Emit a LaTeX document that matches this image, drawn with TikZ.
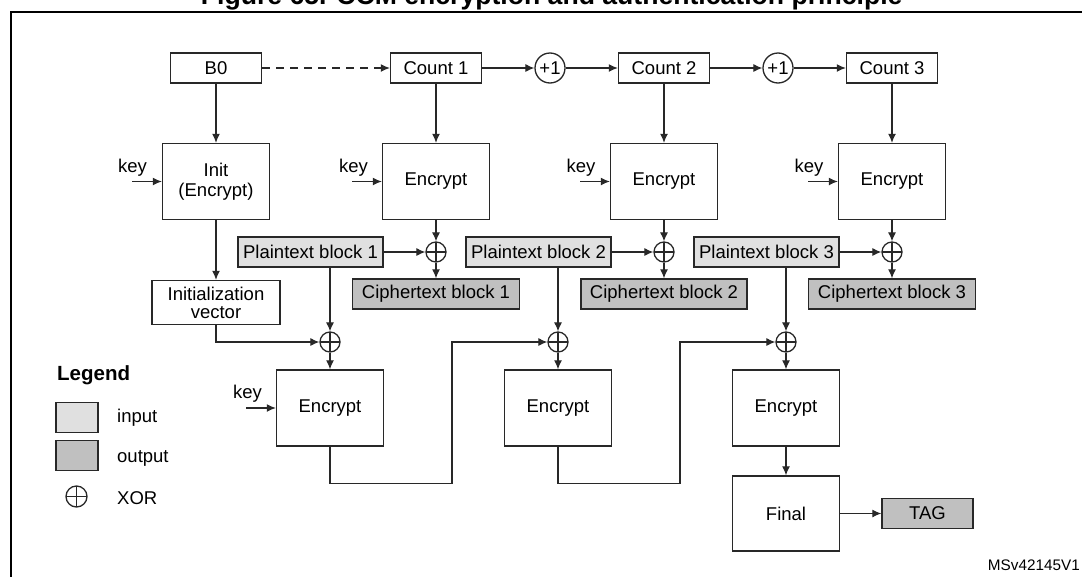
\documentclass[tikz,border=0pt]{standalone}
\usepackage{fontspec}
\setmainfont{Liberation Sans}
\usetikzlibrary{arrows.meta}
\definecolor{infill}{RGB}{224,224,224}
\definecolor{outfill}{RGB}{192,192,192}
\definecolor{ln}{RGB}{40,40,40}
\begin{document}
\begin{tikzpicture}[x=1pt,y=-1pt,
 base/.style={font=\fontsize{18.5}{22}\selectfont, text=black},
 blk/.style={base, draw=ln, line width=1.4pt, inner sep=0pt, align=center},
 small/.style={minimum width=91pt, minimum height=30pt},
 big/.style={minimum width=107pt, minimum height=76pt},
 inbox/.style={blk, fill=infill, minimum width=145pt, minimum height=30pt},
 outbox/.style={blk, fill=outfill, minimum height=30pt},
 xor/.style={circle, draw=ln, line width=1.3pt, minimum size=20pt, inner sep=0pt,
   path picture={\draw[ln, line width=1.1pt] (path picture bounding box.north) -- (path picture bounding box.south) (path picture bounding box.west) -- (path picture bounding box.east);}},
 incr/.style={base, circle, draw=ln, line width=1.3pt, minimum size=30pt, inner sep=0pt},
 arr/.style={draw=ln, line width=1.1pt, -{Latex[length=9pt,width=8pt]}},
 lbl/.style={base, inner sep=0pt, anchor=base},
]
\useasboundingbox (0,0) rectangle (1082,576);
\clip (0,0) rectangle (1082,576);

% title and frame
\node[font=\fontsize{26.6}{30}\selectfont\bfseries, anchor=base, inner sep=0pt] (title) at (551.7,4.3) {Figure 65. CCM encryption and authentication principle};
\draw[line width=2pt, black] (11,600) -- (11,12) -- (1100,12);

% top row
\node[blk, small] (b0) at (216,68) {B0};
\node[blk, small] (c1) at (436,68) {Count 1};
\node[incr] (p1) at (550,68) {+1};
\node[blk, small] (c2) at (664,68) {Count 2};
\node[incr] (p2) at (778,68) {+1};
\node[blk, small] (c3) at (892,68) {Count 3};

% encrypt row
\node[blk, big, font=\fontsize{18.5}{20.5}\selectfont] (init) at (216,181.5) {Init\\(Encrypt)};
\node[blk, big] (e1) at (436,181.5) {Encrypt};
\node[blk, big] (e2) at (664,181.5) {Encrypt};
\node[blk, big] (e3) at (892,181.5) {Encrypt};

% xor row 1
\node[xor] (x1) at (436,252) {};
\node[xor] (x2) at (664,252) {};
\node[xor] (x3) at (892,252) {};

\node[inbox] (pt1) at (310.5,252) {Plaintext block 1};
\node[inbox] (pt2) at (538.5,252) {Plaintext block 2};
\node[inbox] (pt3) at (766.5,252) {Plaintext block 3};

\node[outbox, minimum width=167pt] (ct1) at (436,294) {Ciphertext block 1};
\node[outbox, minimum width=166pt] (ct2) at (664,294) {Ciphertext block 2};
\node[outbox, minimum width=167pt] (ct3) at (892,294) {Ciphertext block 3};

\node[blk, minimum width=128pt, minimum height=44pt, font=\fontsize{18.5}{18}\selectfont] (iv) at (216,302.5) {Initialization\\vector};

% xor row 2
\node[xor] (y1) at (330,342) {};
\node[xor] (y2) at (558,342) {};
\node[xor] (y3) at (786,342) {};

\node[blk, big] (f1) at (330,408) {Encrypt};
\node[blk, big] (f2) at (558,408) {Encrypt};
\node[blk, big] (f3) at (786,408) {Encrypt};

\node[blk, minimum width=107pt, minimum height=75pt] (fin) at (786,513.5) {Final};
\node[outbox, minimum width=91pt] (tag) at (927.5,513.5) {TAG};

% keys
\node[lbl] (kl0) at (132.5,172) {key};
\node[lbl] (kl1) at (353.5,172) {key};
\node[lbl] (kl2) at (581,172) {key};
\node[lbl] (kl3) at (809,172) {key};
\node[lbl] (kl4) at (247.5,398) {key};
\coordinate (k0) at (132,181.5);
\coordinate (k1) at (352,181.5);
\coordinate (k2) at (580,181.5);
\coordinate (k3) at (808,181.5);
\coordinate (k4) at (246,408);
\draw[arr] (k0) -- (init.west);
\draw[arr] (k1) -- (e1.west);
\draw[arr] (k2) -- (e2.west);
\draw[arr] (k3) -- (e3.west);
\draw[arr] (k4) -- (f1.west);

% top connectors
\draw[arr, dash pattern=on 8pt off 6pt] (b0.east) -- (c1.west);
\draw[arr] (c1.east) -- (p1.west);
\draw[arr] (p1.east) -- (c2.west);
\draw[arr] (c2.east) -- (p2.west);
\draw[arr] (p2.east) -- (c3.west);
\draw[arr] (b0.south) -- (init.north);
\draw[arr] (c1.south) -- (e1.north);
\draw[arr] (c2.south) -- (e2.north);
\draw[arr] (c3.south) -- (e3.north);

% ctr xor
\draw[arr] (e1.south) -- (x1.north);
\draw[arr] (e2.south) -- (x2.north);
\draw[arr] (e3.south) -- (x3.north);
\draw[arr] (pt1.east) -- (x1.west);
\draw[arr] (pt2.east) -- (x2.west);
\draw[arr] (pt3.east) -- (x3.west);
\draw[arr] (x1.south) -- (ct1.north);
\draw[arr] (x2.south) -- (ct2.north);
\draw[arr] (x3.south) -- (ct3.north);

% cbc-mac chain
\draw[arr] (init.south) -- (iv.north);
\draw[arr] (iv.south) |- (y1.west);
\draw[arr] (y1.north |- pt1.south) -- (y1.north);
\draw[arr] (y2.north |- pt2.south) -- (y2.north);
\draw[arr] (y3.north |- pt3.south) -- (y3.north);
\draw[arr] (y1.south) -- (f1.north);
\draw[arr] (y2.south) -- (f2.north);
\draw[arr] (y3.south) -- (f3.north);
\coordinate (m1) at (452,483.3);
\coordinate (m2) at (680,483.3);
\draw[arr] (f1.south) |- (m1) |- (y2.west);
\draw[arr] (f2.south) |- (m2) |- (y3.west);
\draw[arr] (f3.south) -- (fin.north);
\draw[arr] (fin.east) -- (tag.west);

% legend
\node[font=\fontsize{20.5}{24}\selectfont\bfseries, anchor=base west, inner sep=0pt] (leg) at (57,380.5) {Legend};
\node[blk, fill=infill, minimum width=42pt, minimum height=30pt] (lin) at (77,417.3) {};
\node[blk, fill=outfill, minimum width=42pt, minimum height=30.4pt] (lout) at (77,455.5) {};
\node[xor, minimum size=21pt] (lxor) at (76.5,496.5) {};
\node[base, anchor=base west, inner sep=0pt] (tin) at (117,422.7) {input};
\node[base, anchor=base west, inner sep=0pt] (tout) at (117,462.7) {output};
\node[base, anchor=base west, inner sep=0pt] (txor) at (117,504) {XOR};

\node[font=\fontsize{15.3}{18}\selectfont, anchor=base east, inner sep=0pt] (ref) at (1080,570.7) {MSv42145V1};
\end{tikzpicture}
\end{document}
